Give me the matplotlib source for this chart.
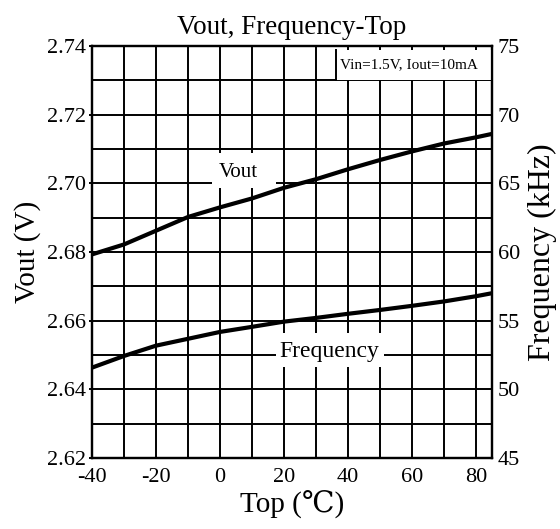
import matplotlib
matplotlib.use("Agg")
import matplotlib.pyplot as plt
from matplotlib.patches import Rectangle
import numpy as np

# ---- data ----
temp = [-40, -30, -20, -10, 0, 10, 20, 30, 40, 50, 60, 70, 80, 85]
vout = [2.6793, 2.6822, 2.6862, 2.6902, 2.6930, 2.6956, 2.6987, 2.7012,
        2.7041, 2.7068, 2.7093, 2.7116, 2.7134, 2.7144]
freq = [51.58, 52.43, 53.18, 53.68, 54.18, 54.55, 54.93, 55.20,
        55.50, 55.78, 56.08, 56.40, 56.78, 57.00]
x_ticks = [-40, -20, 0, 20, 40, 60, 80]
v_ticks = [2.62, 2.64, 2.66, 2.68, 2.70, 2.72, 2.74]
f_ticks = [45, 50, 55, 60, 65, 70, 75]
title = "Vout, Frequency-Top"
cond = "Vin=1.5V, Iout=10mA"

plt.rcParams['font.family'] = ['Liberation Serif', 'DejaVu Serif']
plt.rcParams['axes.unicode_minus'] = False

fig = plt.figure(figsize=(5.6, 5.29), dpi=100)
ax = fig.add_axes([92/560, 1-458/529, 400/560, 412/529])
ax2 = ax.twinx()

ax.set_xlim(-40, 85)
ax.set_ylim(2.62, 2.74)
ax2.set_ylim(45, 75)

ax.set_xticks(x_ticks)
ax.set_xticks(np.arange(-40, 86, 10), minor=True)
ax.set_yticks(v_ticks)
ax.set_yticks(np.arange(2.62, 2.7401, 0.01), minor=True)
ax.set_yticklabels([f"{v:.2f}" for v in v_ticks])
ax2.set_yticks(f_ticks)

ax.grid(True, which='both', color='black', linewidth=1.4)
ax.set_axisbelow(True)

for a in (ax, ax2):
    for s in a.spines.values():
        s.set_linewidth(1.6)
        s.set_color('black')

ax.tick_params(axis='both', which='both', labelsize=16, width=1.4)
ax.tick_params(axis='y', which='major', length=2.5, pad=2)
ax.tick_params(axis='y', which='minor', length=0)
ax.tick_params(axis='x', which='both', length=0, pad=7)
ax2.tick_params(axis='y', labelsize=16, length=0, pad=4)

ax.plot(temp, vout, color='black', linewidth=3.0, solid_capstyle='butt', zorder=4)
ax2.plot(temp, freq, color='black', linewidth=3.0, solid_capstyle='butt', zorder=4)

ax.set_xlabel("Top (℃)", fontsize=21, labelpad=3)
ax.set_ylabel("Vout (V)", fontsize=21, labelpad=4)
ax2.set_ylabel("Frequency (kHz)", fontsize=23, labelpad=6)
ax.set_title(title, fontsize=19.5, pad=9)

# condition box
ax.add_patch(Rectangle((36.25, 2.73), 85 - 36.25, 2.7388 - 2.73,
                       facecolor='white', edgecolor='none', zorder=3))
ax.plot([36.25, 36.25], [2.73, 2.7388], color='black', linewidth=1.4, zorder=3.5)
ax.text(59.0, 2.7347, cond, fontsize=11, ha='center', va='center', zorder=5)

# curve labels
ax.add_patch(Rectangle((-2.5, 2.6986), 20.1, 0.0102,
                       facecolor='white', edgecolor='none', zorder=3))
ax.text(5.8, 2.7032, "Vout", fontsize=15, ha='center', va='center', zorder=5)
ax.add_patch(Rectangle((17.6, 2.6465), 33.8, 0.0099,
                       facecolor='white', edgecolor='none', zorder=3))
ax.text(34.2, 2.6509, "Frequency", fontsize=17, ha='center', va='center', zorder=5)

fig.savefig("out.png", dpi=100)
